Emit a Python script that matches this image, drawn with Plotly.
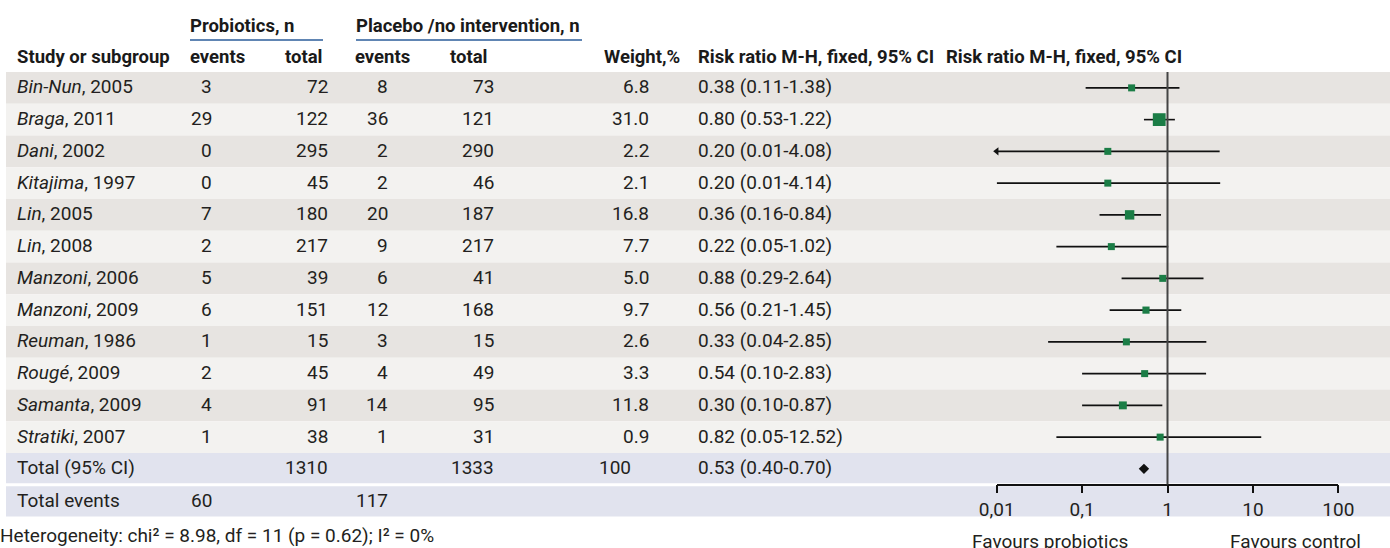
import numpy as np
import plotly.graph_objects as go

# ---------------- data ----------------
studies = ["Bin-Nun", "Braga", "Dani", "Kitajima", "Lin", "Lin", "Manzoni",
           "Manzoni", "Reuman", "Rougé", "Samanta", "Stratiki"]
years = [2005, 2011, 2002, 1997, 2005, 2008, 2006, 2009, 1986, 2009, 2009, 2007]
prob_events = [3, 29, 0, 0, 7, 2, 5, 6, 1, 2, 4, 1]
prob_total = [72, 122, 295, 45, 180, 217, 39, 151, 15, 45, 91, 38]
plac_events = [8, 36, 2, 2, 20, 9, 6, 12, 3, 4, 14, 1]
plac_total = [73, 121, 290, 46, 187, 217, 41, 168, 15, 49, 95, 31]
weights = [6.8, 31.0, 2.2, 2.1, 16.8, 7.7, 5.0, 9.7, 2.6, 3.3, 11.8, 0.9]
rr = [0.38, 0.80, 0.20, 0.20, 0.36, 0.22, 0.88, 0.56, 0.33, 0.54, 0.30, 0.82]
ci_low = [0.11, 0.53, 0.01, 0.01, 0.16, 0.05, 0.29, 0.21, 0.04, 0.10, 0.10, 0.05]
ci_high = [1.38, 1.22, 4.08, 4.14, 0.84, 1.02, 2.64, 1.45, 2.85, 2.83, 0.87, 12.52]
clipped_left = ["Dani"]  # CI extends beyond the plotted range

total_label = "Total (95% CI)"
total_prob = 1310
total_plac = 1333
total_weight = 100
total_rr, total_low, total_high = 0.53, 0.40, 0.70
events_label = "Total events"
total_events_prob = 60
total_events_plac = 117

tick_vals = [0.01, 0.1, 1, 10, 100]
tick_text = ["0,01", "0,1", "1", "10", "100"]

heterogeneity = "Heterogeneity: chi² = 8.98, df = 11 (p = 0.62); I² = 0%"

# ---------------- layout constants ----------------
W, H = 1390, 548
ROW_TOP, PITCH = 72.0, 31.75
FONT = "Roboto"
FS = 19
TXT = "#231f20"
DARK_BAND, LIGHT_BAND, BLUE_BAND = "#e7e4e1", "#f3f2f0", "#e1e3ee"
GREEN = "#1b7d46"
PLOT_L, PLOT_R = 996.7, 1338.3
AXIS_Y = 484.5

def px2row(py):
    return (py - ROW_TOP) / PITCH - 0.5

def py2paper(py):
    return 1 - py / H

n = len(studies)
rows = list(range(n))
row_total = n
row_events = n + 1

fig = go.Figure()

# ---------------- background bands ----------------
shapes = []
for i in rows:
    shapes.append(dict(type="rect", xref="x", yref="y", x0=6, x1=W,
                       y0=i - 0.5, y1=i + 0.5, line_width=0, layer="below",
                       fillcolor=DARK_BAND if i % 2 == 0 else LIGHT_BAND))
shapes.append(dict(type="rect", xref="x", yref="y", x0=6, x1=W,
                   y0=row_total - 0.5, y1=row_total + 0.45, line_width=0,
                   layer="below", fillcolor=BLUE_BAND))
shapes.append(dict(type="rect", xref="x", yref="y", x0=6, x1=W,
                   y0=row_events - 0.45, y1=row_events + 0.5, line_width=0,
                   layer="below", fillcolor=BLUE_BAND))
# header underlines
for x0, x1 in [(190, 323), (356, 582)]:
    shapes.append(dict(type="line", xref="x", yref="paper", x0=x0, x1=x1,
                       y0=py2paper(40), y1=py2paper(40),
                       line=dict(color="#2b5c9a", width=1.5)))
# line of no effect
shapes.append(dict(type="line", xref="x2", yref="y", x0=1, x1=1,
                   y0=-0.5, y1=px2row(AXIS_Y),
                   line=dict(color="#444444", width=2), layer="above"))

# ---------------- forest marks ----------------
lx, ly = [], []
for i in rows:
    lx += [ci_low[i], ci_high[i], None]
    ly += [i, i, None]
fig.add_trace(go.Scatter(x=lx, y=ly, mode="lines", xaxis="x2", yaxis="y",
                         line=dict(color="#111111", width=1.6),
                         hoverinfo="skip", showlegend=False, cliponaxis=False))
sizes = np.clip(2.3 * np.sqrt(np.array(weights)), 7, None)
fig.add_trace(go.Scatter(x=rr, y=rows, mode="markers", xaxis="x2", yaxis="y",
                         marker=dict(symbol="square", size=sizes, color=GREEN,
                                     opacity=1, line=dict(width=0)),
                         showlegend=False, cliponaxis=False))
arrow_rows = [i for i in rows if studies[i] in clipped_left]
fig.add_trace(go.Scatter(x=[ci_low[i] for i in arrow_rows], y=arrow_rows,
                         mode="markers", xaxis="x2", yaxis="y",
                         marker=dict(symbol="triangle-left", size=7,
                                     color="#111111", line=dict(width=0)),
                         showlegend=False, cliponaxis=False))
fig.add_trace(go.Scatter(x=[total_rr], y=[row_total], mode="markers",
                         xaxis="x2", yaxis="y",
                         marker=dict(symbol="diamond", size=8, color="#111111",
                                     line=dict(width=0)),
                         showlegend=False, cliponaxis=False))

# ---------------- text ----------------
ann = []

def txt(x, y, s, anchor="left", yref="y", bold=False, size=FS, color=TXT):
    ann.append(dict(x=x, y=y, xref="x", yref=yref, text=s, showarrow=False,
                    xanchor=anchor, yanchor="middle", borderpad=0,
                    borderwidth=0, yshift=1 if yref == "y" else 0,
                    font=dict(family=FONT, size=size, color=color,
                              weight="bold" if bold else "normal")))

HB = 18.5
HC = "#1a1a1a"
hdr1 = py2paper(26)
hdr2 = py2paper(57)
txt(190, hdr1, "Probiotics, n", yref="paper", bold=True, size=HB, color=HC)
txt(356, hdr1, "Placebo /no intervention, n", yref="paper", bold=True, size=HB, color=HC)
txt(17, hdr2, "Study or subgroup", yref="paper", bold=True, size=HB, color=HC)
txt(190, hdr2, "events", yref="paper", bold=True, size=HB, color=HC)
txt(323, hdr2, "total", anchor="right", yref="paper", bold=True, size=HB, color=HC)
txt(355, hdr2, "events", yref="paper", bold=True, size=HB, color=HC)
txt(450, hdr2, "total", yref="paper", bold=True, size=HB, color=HC)
txt(680, hdr2, "Weight,%", anchor="right", yref="paper", bold=True, size=HB, color=HC)
txt(698, hdr2, "Risk ratio M-H, fixed, 95% CI", yref="paper", bold=True, size=HB, color=HC)
txt(946, hdr2, "Risk ratio M-H, fixed, 95% CI", yref="paper", bold=True, size=HB, color=HC)

for i in rows:
    txt(17, i, f"<i>{studies[i]}</i>, {years[i]}")
    txt(212, i, str(prob_events[i]), anchor="right")
    txt(328, i, str(prob_total[i]), anchor="right")
    txt(388, i, str(plac_events[i]), anchor="right")
    txt(494, i, str(plac_total[i]), anchor="right")
    txt(649, i, f"{weights[i]:.1f}", anchor="right")
    txt(698, i, f"{rr[i]:.2f} ({ci_low[i]:.2f}-{ci_high[i]:.2f})")

txt(17, row_total, total_label)
txt(328, row_total, str(total_prob), anchor="right")
txt(494, row_total, str(total_plac), anchor="right")
txt(631, row_total, str(total_weight), anchor="right")
txt(698, row_total, f"{total_rr:.2f} ({total_low:.2f}-{total_high:.2f})")

txt(17, row_events + 0.03, events_label)
txt(212, row_events + 0.03, str(total_events_prob), anchor="right")
txt(388, row_events + 0.03, str(total_events_plac), anchor="right")

txt(0, py2paper(535), heterogeneity, yref="paper")
txt(1050, py2paper(541), "Favours probiotics", anchor="center", yref="paper")
txt(1295, py2paper(541), "Favours control", anchor="center", yref="paper")

fig.update_layout(
    template="none",
    width=W, height=H, autosize=False,
    margin=dict(l=0, r=0, t=0, b=0, pad=0, autoexpand=False),
    paper_bgcolor="white", plot_bgcolor="rgba(0,0,0,0)",
    shapes=shapes, annotations=ann,
    showlegend=False,
    xaxis=dict(range=[0, W], domain=[0, 1], visible=False, fixedrange=True,
               automargin=False),
    xaxis2=dict(type="log", range=[np.log10(tick_vals[0]), np.log10(tick_vals[-1])],
                domain=[PLOT_L / W, PLOT_R / W], anchor="free",
                position=py2paper(AXIS_Y), showline=True, linecolor="#111111",
                linewidth=1.5, ticks="outside", ticklen=8, tickwidth=1.5,
                tickcolor="#111111", tickvals=tick_vals, ticktext=tick_text,
                tickfont=dict(family=FONT, size=FS, color=TXT),
                showgrid=False, zeroline=False, fixedrange=True,
                automargin=False),
    yaxis=dict(range=[px2row(H), px2row(0)], domain=[0, 1], visible=False,
               fixedrange=True, automargin=False),
)

fig.write_html(
    "out.html",
    config={"displayModeBar": False},
    post_script="document.body.style.margin='0';document.body.style.overflow='hidden';",
)
